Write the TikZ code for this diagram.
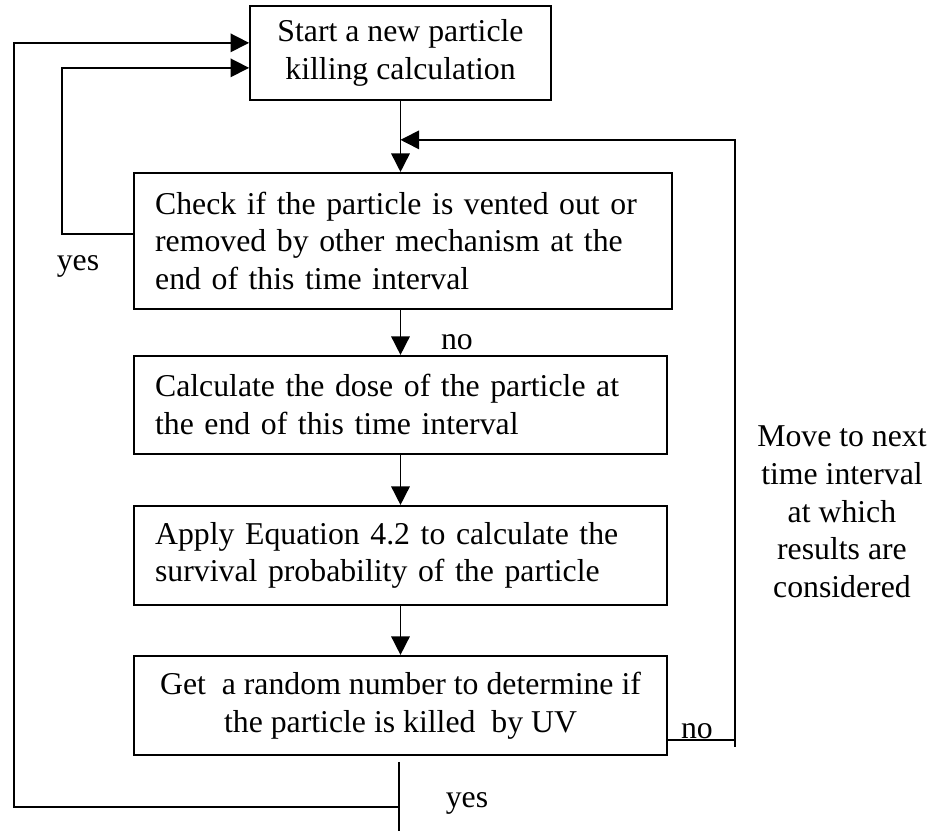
\documentclass[tikz,border=0pt]{standalone}
\usepackage{fontspec}
\setmainfont{Liberation Serif}
\usepackage{xcolor}
\usepackage{tikz}
\usetikzlibrary{arrows.meta}

\begin{document}
\begin{tikzpicture}
        \tikzset{box style/.style={draw, line width=0.7pt, rectangle, inner xsep=0.28cm, inner ysep=0pt, font=\fontsize{12}{14.3}\selectfont}}
        \tikzset{line style/.style={line width=0.6pt, color=black}}
        \tikzset{arrow style/.style={-{Triangle[length=7pt, width=7pt]}}}
        \tikzset{label style/.style={inner sep=0pt, font=\fontsize{12}{14.3}\selectfont}}

        \useasboundingbox (0,0) rectangle (12.36,11.03);

        \node[box style, align=center, minimum width=3.996cm, minimum height=1.248cm] (start) at (5.317, 10.328) {Start a new particle\\killing calculation};
        \node[box style, align=left, text width=6.58cm, minimum height=1.805cm] (check) at (5.350, 7.832) {Check if the particle is vented out or\\removed by other mechanism at the\\end of this time interval};
        \node[box style, align=left, text width=6.516cm, minimum height=1.301cm] (calc) at (5.317, 5.655) {Calculate the dose of the particle at\\the end of this time interval};
        \node[box style, align=left, text width=6.516cm, minimum height=1.314cm] (apply) at (5.317, 3.657) {Apply Equation 4.2 to calculate the\\survival probability of the particle};
        \node[box style, align=center, minimum width=7.076cm, minimum height=1.314cm] (get) at (5.317, 1.666) {Get\ \ a random number to determine if\\the particle is killed\ \ by UV};

        \node[label style, align=center] (move) at (11.178, 4.235) {Move to next\\time interval\\at which\\results are\\considered};
        \node[label style] (yesleft) at (1.035, 7.487) {yes};
        \node[label style] (nomid) at (6.067, 6.491) {no};
        \node[label style, anchor=south] (noright) at (9.253, 1.215) {no};
        \node[label style] (yesbottom) at (6.199, 0.358) {yes};

        \coordinate (noLine) at (9.757, 1.208);
        \coordinate (noEnd) at (9.757, 1.115);
        \coordinate (loopTop) at (9.757, 9.173);
        \coordinate (outB) at (0.186, 0.319);
        \coordinate (inL) at (0.823, 7.925);
        \coordinate (yesEnd) at (5.30, 0);

        % main column
        \draw[line style, arrow style] (start.south) -- (start.south |- check.north);
        \draw[line style, arrow style] (check.south -| start.south) -- (start.south |- calc.north);
        \draw[line style, arrow style] (calc.south -| start.south) -- (start.south |- apply.north);
        \draw[line style, arrow style] (apply.south -| start.south) -- (start.south |- get.north);

        % loop back to next time interval
        \draw[line style] (get.east |- noLine) -- (noLine);
        \draw[line style, arrow style] (noEnd) -- (loopTop) -- (start.south |- loopTop);

        % back to a new particle
        \draw[line style] ([yshift=-0.08cm]get.south -| yesEnd) -- (yesEnd);
        \draw[line style, arrow style] (yesEnd |- outB) -- (outB) |- ([yshift=0.133cm]start.west);
        \draw[line style, arrow style] (check.west |- inL) -- (inL) |- ([yshift=-0.199cm]start.west);
    \end{tikzpicture}
\end{document}
